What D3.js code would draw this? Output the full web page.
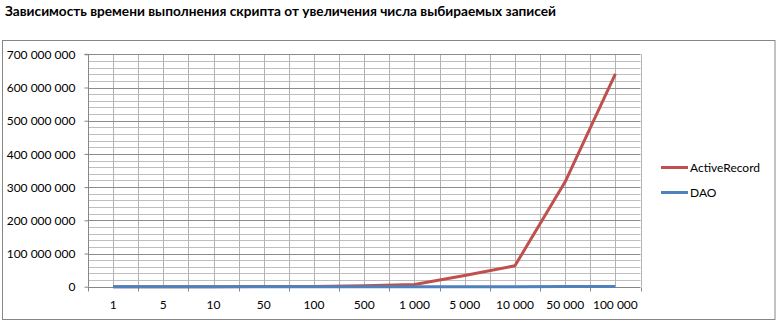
<!DOCTYPE html>
<html><head><meta charset="utf-8">
<script src="https://cdn.jsdelivr.net/npm/d3@7"></script>
<style>
html,body{margin:0;padding:0;background:#fff;}
svg{display:block;}
text{font-family:Lato,"Liberation Sans",sans-serif;fill:#000;}
</style></head>
<body>
<script>
const title = "Зависимость времени выполнения скрипта от увеличения числа выбираемых записей";
const categories = ["1","5","10","50","100","500","1 000","5 000","10 000","50 000","100 000"];
const activeRecord = [6000, 30000, 65000, 320000, 650000, 3200000, 6500000, 34000000, 63000000, 316000000, 641000000];
const dao = [500, 1000, 2000, 5000, 9000, 30000, 60000, 90000, 120000, 250000, 400000];
const seriesNames = ["ActiveRecord", "DAO"];
const seriesColors = ["#C0504D", "#4F81BD"];
const yTicks = [0,100e6,200e6,300e6,400e6,500e6,600e6,700e6];

const W = 777, H = 321;
const svg = d3.select("body").append("svg").attr("width", W).attr("height", H);

// title
svg.append("text").attr("x", 5).attr("y", 16)
  .attr("font-size", 13).attr("font-weight", "bold")
  .attr("textLength", 551).attr("lengthAdjust", "spacingAndGlyphs")
  .text(title);

// chart border
svg.append("rect").attr("x", 2.5).attr("y", 40.5).attr("width", 772.5).attr("height", 279)
  .attr("fill", "none").attr("stroke", "#868686").attr("stroke-width", 1);

const x = d3.scaleBand().domain(categories).range([88, 640.5]).padding(0);
const y = d3.scaleLinear().domain([0, 700e6]).range([286.7, 54.3]);
const cx = c => x(c) + x.bandwidth() / 2;

const g = svg.append("g");
// minor horizontal gridlines
const minor = d3.range(0, 700e6 + 1, 20e6).filter(v => v % 100e6 !== 0);
g.selectAll(".hmin").data(minor).enter().append("line")
  .attr("x1", 88).attr("x2", 640.5)
  .attr("y1", d => Math.round(y(d)) + 0.5).attr("y2", d => Math.round(y(d)) + 0.5)
  .attr("stroke", "#BEBEBE").attr("stroke-width", 1);
// vertical gridlines at centers and boundaries
const vpos = [];
categories.forEach(c => { vpos.push(cx(c)); vpos.push(x(c) + x.bandwidth()); });
g.selectAll(".vg").data(vpos).enter().append("line")
  .attr("x1", d => Math.round(d) + 0.5).attr("x2", d => Math.round(d) + 0.5)
  .attr("y1", y(700e6)).attr("y2", y(0))
  .attr("stroke", "#B4B4B4").attr("stroke-width", 1);
// major horizontal gridlines
g.selectAll(".hmaj").data(yTicks.filter(v => v > 0)).enter().append("line")
  .attr("x1", 88).attr("x2", 640.5)
  .attr("y1", d => Math.round(y(d)) + 0.5).attr("y2", d => Math.round(y(d)) + 0.5)
  .attr("stroke", "#8C8C8C").attr("stroke-width", 1);

// y axis
const fmt = v => d3.format(",")(v).replace(/,/g, " ");
const yAxis = d3.axisLeft(y).tickValues(yTicks).tickFormat(fmt).tickSize(4).tickPadding(9);
const ya = svg.append("g").attr("transform", "translate(88.5,0)").call(yAxis);
ya.select(".domain").attr("stroke", "#868686").attr("d", `M-4,${y(700e6)}H0V${y(0)}`);
ya.selectAll(".tick line").attr("stroke", "#868686");
ya.selectAll(".tick text").attr("font-size", 12).attr("font-family", "Lato,'Liberation Sans',sans-serif").attr("fill", "#000").attr("dy", "0.35em");

// x axis
const xa = svg.append("g").attr("transform", `translate(0,${Math.round(y(0)) + 0.5})`);
xa.append("line").attr("x1", 88).attr("x2", 640.5).attr("y1", 0).attr("y2", 0).attr("stroke", "#868686");
const bounds = [88].concat(categories.map(c => x(c) + x.bandwidth()));
xa.selectAll(".xt").data(bounds).enter().append("line")
  .attr("x1", d => Math.round(d) + 0.5).attr("x2", d => Math.round(d) + 0.5)
  .attr("y1", 0).attr("y2", 4).attr("stroke", "#868686");
xa.selectAll(".xl").data(categories).enter().append("text")
  .attr("x", d => cx(d)).attr("y", 21).attr("text-anchor", "middle")
  .attr("font-size", 12).text(d => d);

// lines
const line = d3.line().x((d, i) => cx(categories[i])).y(d => y(d));
[activeRecord, dao].forEach((s, k) => {
  svg.append("path").datum(s).attr("d", line).attr("fill", "none")
    .attr("stroke", seriesColors[k]).attr("stroke-width", 3).attr("stroke-linejoin", "round");
});

// legend
const leg = svg.append("g");
seriesNames.forEach((n, k) => {
  const ly = 167.5 + k * 25;
  leg.append("line").attr("x1", 661).attr("x2", 688).attr("y1", ly).attr("y2", ly)
    .attr("stroke", seriesColors[k]).attr("stroke-width", 3);
  leg.append("text").attr("x", 690).attr("y", ly).attr("dy", "0.35em")
    .attr("font-size", 12).text(n);
});
</script>
</body></html>
